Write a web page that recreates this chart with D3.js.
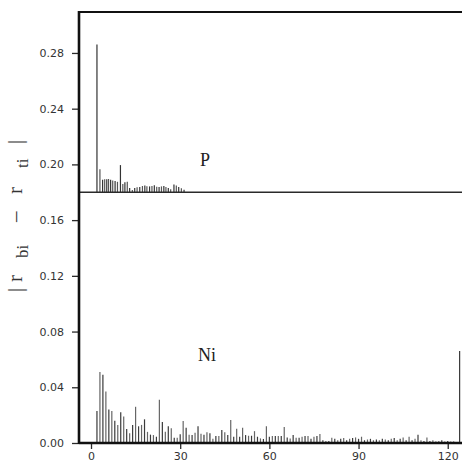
<!DOCTYPE html>
<html><head><meta charset="utf-8">
<script src="https://cdn.jsdelivr.net/npm/d3@7"></script>
<style>html,body{margin:0;padding:0;background:#fff;} svg{display:block;}</style>
</head><body>
<svg id="chart" width="462" height="462"></svg>
<script>
// ---- data ----
const yTicks = [0, 0.04, 0.08, 0.12, 0.16, 0.20, 0.24, 0.28];
const xTicks = [0, 30, 60, 90, 120];
const pBaseline = 0.18;
const pPositions = [2.0, 3.0, 3.9, 4.6, 5.3, 5.9, 6.6, 7.3, 8.1, 8.9, 9.9, 10.7, 11.4, 12.2, 13.0, 13.9, 14.7, 15.5, 16.4, 17.3, 18.1, 18.8, 19.7, 20.5, 21.3, 22.1, 22.9, 23.7, 24.5, 25.2, 26.0, 26.8, 27.9, 28.7, 29.5, 30.4, 31.3];
const pValues = [0.286, 0.1965, 0.189, 0.1893, 0.1893, 0.1895, 0.189, 0.1885, 0.188, 0.1875, 0.1995, 0.186, 0.1872, 0.1876, 0.1831, 0.1817, 0.1831, 0.1836, 0.1838, 0.1845, 0.1848, 0.1843, 0.1842, 0.1845, 0.185, 0.184, 0.1838, 0.1842, 0.1845, 0.1838, 0.183, 0.1822, 0.1855, 0.1848, 0.1838, 0.1828, 0.1818];
const niFirstIndex = 2;
const niValues = [
  0.023, 0.051, 0.049, 0.037, 0.024, 0.023, 0.016, 0.013, 0.022, 0.019,
  0.010, 0.007, 0.013, 0.026, 0.012, 0.013, 0.017, 0.008, 0.006, 0.0057,
  0.0045, 0.031, 0.015, 0.008, 0.012, 0.0105, 0.0038, 0.0038, 0.0062, 0.0158,
  0.011, 0.006, 0.0057, 0.0074, 0.012, 0.0067, 0.006, 0.0077, 0.007, 0.003,
  0.005, 0.005, 0.0093, 0.0077, 0.0057, 0.0165, 0.0045, 0.0103, 0.0045, 0.011,
  0.0057, 0.0052, 0.0052, 0.0085, 0.0045, 0.0033, 0.0029, 0.012, 0.0045, 0.005,
  0.005, 0.005, 0.005, 0.0115, 0.004, 0.0033, 0.0057, 0.0038, 0.0038, 0.0045,
  0.005, 0.005, 0.003, 0.0045, 0.005, 0.0065, 0.002, 0.0015, 0.0015, 0.0038,
  0.003, 0.002, 0.003, 0.0035, 0.002, 0.003, 0.0035, 0.004, 0.003, 0.0045,
  0.002, 0.0025, 0.003, 0.002, 0.0025, 0.002, 0.003, 0.0025, 0.002, 0.003,
  0.0035, 0.002, 0.003, 0.004, 0.002, 0.0045, 0.002, 0.003, 0.006, 0.002,
  0.0015, 0.004, 0.0015, 0.002, 0.001, 0.0015, 0.002, 0.001, 0.0015, 0.001,
  0.001, 0, 0.066
];
const seriesLabels = ["P", "Ni"];

// ---- layout ----
const svg = d3.select("#chart");
svg.append("rect").attr("width", 462).attr("height", 462).attr("fill", "#fff");
const x = d3.scaleLinear().domain([-4.04, 124.8]).range([79, 462]);
const y = d3.scaleLinear().domain([0, 0.3094]).range([443, 12]);
const ink = "#2a2a2a";

// Ni bars
const niData = niValues.map((v, k) => ({i: niFirstIndex + k, v}));
svg.append("g").selectAll("line").data(niData).join("line")
  .attr("x1", d => x(d.i)).attr("x2", d => x(d.i))
  .attr("y1", y(0)).attr("y2", d => y(d.v))
  .attr("stroke", (d, k) => k % 2 ? "#666" : "#3a3a3a").attr("stroke-width", 1.2);

// P bars
const pData = pValues.map((v, k) => ({i: pPositions[k], v}));
svg.append("g").selectAll("line").data(pData).join("line")
  .attr("x1", d => x(d.i)).attr("x2", d => x(d.i))
  .attr("y1", y(pBaseline)).attr("y2", d => y(d.v))
  .attr("stroke", (d, k) => k % 2 ? "#555" : "#333").attr("stroke-width", 1.2);

// P baseline
svg.append("line").attr("x1", x.range()[0]).attr("x2", x.range()[1])
  .attr("y1", y(pBaseline)).attr("y2", y(pBaseline))
  .attr("stroke", ink).attr("stroke-width", 1.4);

// axes
const yAxis = svg.append("g").attr("transform", `translate(${x.range()[0]},0)`)
  .call(d3.axisLeft(y).tickValues(yTicks).tickFormat(d3.format(".2f")).tickSize(7).tickPadding(8));
const xAxis = svg.append("g").attr("transform", `translate(0,${y(0)})`)
  .call(d3.axisBottom(x).tickValues(xTicks).tickFormat(d3.format("d")).tickSize(6).tickPadding(3));
[yAxis, xAxis].forEach(g => {
  g.select(".domain").remove();
  g.selectAll(".tick line").attr("stroke", ink).attr("stroke-width", 1.3);
  g.selectAll(".tick text").attr("fill", "#333")
    .style("font-family", "'DejaVu Sans', sans-serif").style("font-size", "11px");
});

// frame
svg.append("line").attr("x1", x.range()[0]).attr("x2", x.range()[0])
  .attr("y1", y.range()[1] - 1).attr("y2", y(0) + 1)
  .attr("stroke", "#111").attr("stroke-width", 2.6);
svg.append("line").attr("x1", x.range()[0]).attr("x2", x.range()[1])
  .attr("y1", y.range()[1]).attr("y2", y.range()[1])
  .attr("stroke", "#111").attr("stroke-width", 2.2);
svg.append("line").attr("x1", x.range()[0]).attr("x2", x.range()[1])
  .attr("y1", y(0)).attr("y2", y(0))
  .attr("stroke", "#111").attr("stroke-width", 2.6);

// series labels
svg.append("text").attr("x", 205).attr("y", 166).attr("text-anchor", "middle")
  .style("font-family", "'Liberation Serif', serif").style("font-size", "18px").attr("fill", "#222")
  .text(seriesLabels[0]);
svg.append("text").attr("x", 207).attr("y", 361).attr("text-anchor", "middle")
  .style("font-family", "'Liberation Serif', serif").style("font-size", "18px").attr("fill", "#222")
  .text(seriesLabels[1]);

// y-axis label |r_bi - r_ti|
const yl = svg.append("text").attr("transform", "translate(22,292) rotate(-90)")
  .style("font-family", "'Liberation Serif', serif").style("font-size", "21px").attr("fill", "#333");
yl.append("tspan").attr("x", 0).attr("y", 0).text("|");
yl.append("tspan").attr("x", 10).attr("y", 0).text("r");
yl.append("tspan").attr("x", 34).attr("y", 6).style("font-size", "17px").text("bi");
yl.append("tspan").attr("x", 70).attr("y", 0).text("\u2013");
yl.append("tspan").attr("x", 98).attr("y", 0).text("r");
yl.append("tspan").attr("x", 124).attr("y", 6).style("font-size", "17px").text("ti");
yl.append("tspan").attr("x", 148).attr("y", 0).text("|");
</script>
</body></html>
